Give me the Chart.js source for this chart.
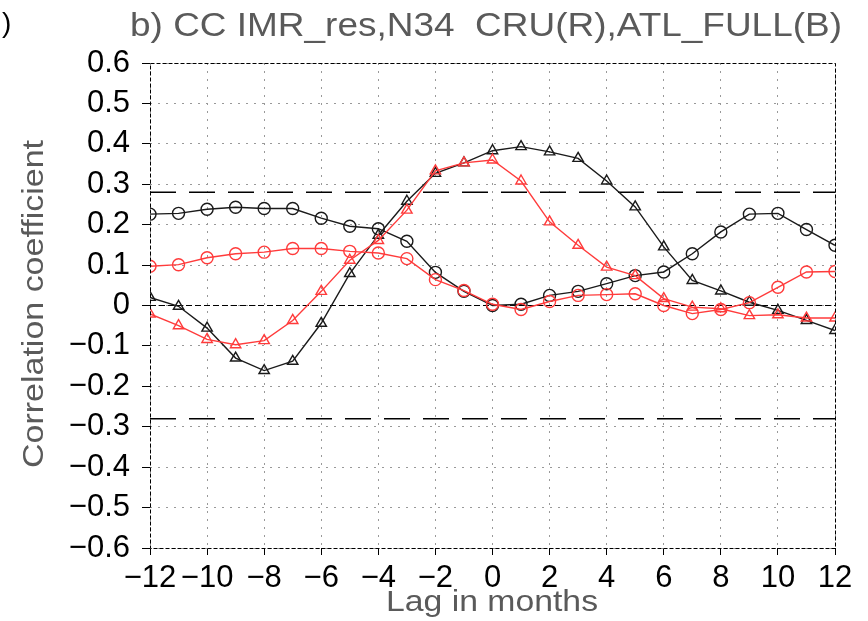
<!DOCTYPE html>
<html>
<head>
<meta charset="utf-8">
<script src="https://cdn.jsdelivr.net/npm/chart.js@4.4.1/dist/chart.umd.min.js"></script>
<style>
  html, body { margin: 0; padding: 0; background: #fff; }
  #wrap { width: 868px; height: 621px; }
</style>
</head>
<body>
<div id="wrap"><canvas id="cc"></canvas></div>
<script>
// lag in months, -12 .. 12
const lags = [-12,-11,-10,-9,-8,-7,-6,-5,-4,-3,-2,-1,0,1,2,3,4,5,6,7,8,9,10,11,12];

// CRU (red) and ATL_FULL (black), circles and triangles
const redCircle = [0.097,0.101,0.118,0.128,0.132,0.141,0.141,0.134,0.130,0.116,0.064,0.037,0.003,-0.010,0.010,0.025,0.027,0.029,0.000,-0.020,-0.010,0.007,0.045,0.083,0.084];
const redTri = [-0.021,-0.050,-0.084,-0.097,-0.087,-0.037,0.035,0.112,0.161,0.236,0.333,0.353,0.360,0.308,0.207,0.149,0.095,0.074,0.017,-0.004,-0.008,-0.025,-0.023,-0.031,-0.031];
const blackCircle = [0.226,0.228,0.238,0.243,0.240,0.240,0.216,0.196,0.190,0.159,0.082,0.035,0.000,0.003,0.025,0.035,0.054,0.074,0.083,0.128,0.182,0.226,0.228,0.188,0.149];
const blackTri = [0.020,-0.002,-0.056,-0.130,-0.161,-0.138,-0.044,0.079,0.174,0.258,0.327,0.353,0.383,0.393,0.380,0.364,0.308,0.244,0.145,0.062,0.036,0.008,-0.012,-0.037,-0.062];

// significance levels and zero line
const sigLevels = [0.28, -0.28];
const zeroLevel = 0;

const RED = '#ff3b3b';
const BLK = '#1a1a1a';
const GRAY = '#5a5a5a';

function pts(vals) {
  return lags.map((x, i) => ({ x: x, y: vals[i] }));
}
function hline(v) {
  return [{ x: lags[0], y: v }, { x: lags[lags.length - 1], y: v }];
}
function fmt(v) {
  if (Math.abs(v) < 1e-9) return '0';
  return String(v).replace('-', '\u2212');
}

const datasets = [];
sigLevels.forEach(v => {
  datasets.push({ data: hline(v), borderColor: '#000', borderWidth: 1.5, borderDash: [26, 13], pointRadius: 0, order: 5 });
});
datasets.push({ data: hline(zeroLevel), borderColor: '#000', borderWidth: 1.2, borderDash: [6, 3], pointRadius: 0, order: 5 });

function series(vals, color, style) {
  return {
    data: pts(vals), borderColor: color, borderWidth: 1.4,
    pointStyle: style, pointRadius: 6,
    pointBorderColor: color, pointBackgroundColor: 'rgba(255,255,255,0)',
    pointBorderWidth: 1.4, tension: 0, order: 1
  };
}
datasets.push(series(redCircle, RED, 'circle'));
datasets.push(series(redTri, RED, 'triangle'));
datasets.push(series(blackCircle, BLK, 'circle'));
datasets.push(series(blackTri, BLK, 'triangle'));

// text + dashed frame drawn around the plot area
const decor = {
  id: 'decor',
  afterDraw(chart) {
    const ctx = chart.ctx;
    const a = chart.chartArea;
    ctx.save();
    ctx.strokeStyle = '#000';
    ctx.lineWidth = 1;
    ctx.setLineDash([4, 2]);
    ctx.strokeRect(a.left + 0.5, a.top + 0.5, a.right - a.left, a.bottom - a.top);
    ctx.setLineDash([]);

    // squeeze text into the width it takes in the figure
    function fitText(txt, x, y, w, font, color, rot) {
      ctx.save();
      ctx.font = font;
      ctx.fillStyle = color;
      ctx.textBaseline = 'middle';
      ctx.textAlign = 'left';
      const m = ctx.measureText(txt).width;
      ctx.translate(x, y);
      if (rot) ctx.rotate(rot);
      ctx.scale(w / m, 1);
      ctx.fillText(txt, 0, 0);
      ctx.restore();
    }
    fitText('b) CC IMR_res,N34  CRU(R),ATL_FULL(B)', 130, 27, 712, '33px "Liberation Sans"', GRAY, 0);
    fitText('Lag in months', 386, 603, 212, '30px "Liberation Sans"', GRAY, 0);
    fitText('Correlation coefficient', 35, 468, 328, '29px "Liberation Sans"', GRAY, -Math.PI / 2);
    ctx.font = '28px "Liberation Sans"';
    ctx.fillStyle = '#000';
    ctx.textBaseline = 'middle';
    ctx.fillText(')', 2, 24);
    ctx.restore();
  }
};

new Chart(document.getElementById('cc'), {
  type: 'line',
  data: { datasets },
  options: {
    responsive: true,
    maintainAspectRatio: false,
    animation: false,
    layout: { padding: { top: 63, right: 33, left: 0, bottom: 0 } },
    plugins: { legend: { display: false }, tooltip: { enabled: false } },
    scales: {
      x: {
        type: 'linear', min: -12, max: 12,
        afterFit: s => { s.height = 73; },
        ticks: {
          stepSize: 2, autoSkip: false, maxRotation: 0, padding: 5,
          color: '#000', font: { family: 'Liberation Sans', size: 31 },
          callback: v => fmt(v)
        },
        grid: { color: '#999', lineWidth: 1, tickLength: 7, tickColor: '#000', tickWidth: 1 },
        border: { display: false, dash: [2, 6] }
      },
      y: {
        min: -0.6, max: 0.6,
        afterFit: s => { s.width = 150; },
        ticks: {
          stepSize: 0.1, padding: 12,
          color: '#000', font: { family: 'Liberation Sans', size: 31 },
          callback: v => fmt(Math.round(v * 10) / 10)
        },
        grid: { color: '#999', lineWidth: 1, tickLength: 8, tickColor: '#000', tickWidth: 1 },
        border: { display: false, dash: [2, 6] }
      }
    }
  },
  plugins: [decor]
});
</script>
</body>
</html>
